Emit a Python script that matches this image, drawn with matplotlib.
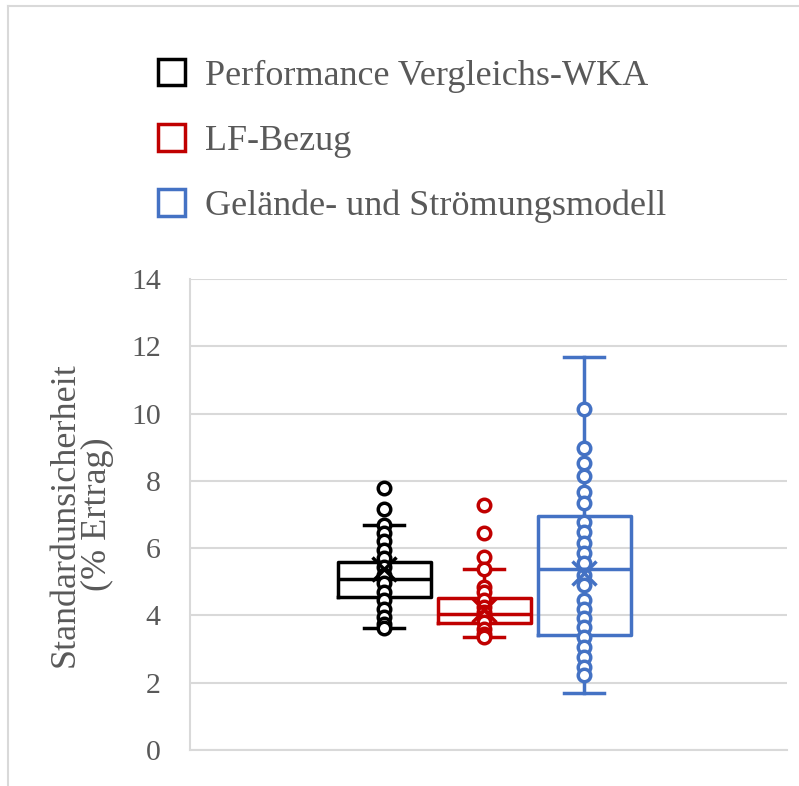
#box plot of the standard uncertainty (% yield) for three uncertainty sources

import numpy as np
import matplotlib.pyplot as plt
import matplotlib.patches as mpatches
from matplotlib.lines import Line2D

SERIES = ["Performance Vergleichs-WKA", "LF-Bezug", "Gelände- und Strömungsmodell"]
COLORS = ["#000000", "#c00000", "#4472c4"]

# box statistics
q1 = [4.55, 3.78, 3.42]
median = [5.08, 4.03, 5.38]
q3 = [5.59, 4.52, 6.96]
whis_lo = [3.64, 3.36, 1.70]
whis_hi = [6.70, 5.38, 11.68]
means = [5.38, 4.16, 5.26]

# single data points (circles)
pts_perf = [7.78, 7.15, 6.70, 6.45, 6.20, 5.95, 5.70, 5.45, 5.20, 4.95, 4.70, 4.45, 4.20, 3.95, 3.75, 3.64]
pts_lf = [7.28, 6.45, 5.74, 5.38, 4.85, 4.70, 4.45, 4.25, 4.10, 3.95, 3.80, 3.60, 3.45, 3.36]
pts_geo = [10.14, 8.98, 8.53, 8.14, 7.67, 7.34, 6.78, 6.48, 6.15, 5.85, 5.56, 5.20, 4.90,
           4.46, 4.19, 3.92, 3.66, 3.36, 3.06, 2.76, 2.47, 2.23]
points = [pts_perf, pts_lf, pts_geo]

plt.rcParams['font.family'] = ['Liberation Serif', 'DejaVu Serif']
TXT = "#595959"
GRID = "#d9d9d9"

fig = plt.figure(figsize=(7.99, 7.86), dpi=100)
ax = fig.add_axes([190/799, 1-750/786, 597/799, 471/786])

stats = []
for i in range(3):
    stats.append(dict(q1=q1[i], med=median[i], q3=q3[i], whislo=whis_lo[i],
                      whishi=whis_hi[i], mean=means[i], fliers=[]))

pos = [1, 2, 3]
for i in range(3):
    c = COLORS[i]
    ax.bxp([stats[i]], positions=[pos[i]], widths=0.93, showmeans=False,
           showfliers=False, patch_artist=False, capwidths=[0.4],
           boxprops=dict(color=c, lw=2.5),
           medianprops=dict(color=c, lw=2.5),
           whiskerprops=dict(color=c, lw=2.5),
           capprops=dict(color=c, lw=2.5),
           zorder=3)
    ax.plot([pos[i]]*len(points[i]), points[i], 'o', mfc='white', mec=c, mew=2.5,
            ms=9, zorder=4, ls='none')
    # mean marker on top of the points
    ax.plot([pos[i]], [means[i]], 'x', color=c, ms=17, mew=2.5, zorder=5)

ax.set_xlim(-0.94, 5.03)
ax.set_ylim(0, 14)
ax.set_yticks(np.arange(0, 15, 2))
ax.set_xticks([])
ax.grid(axis='y', color=GRID, lw=1.5)
ax.set_axisbelow(True)
for s in ['top', 'right']:
    ax.spines[s].set_visible(False)
for s in ['left', 'bottom']:
    ax.spines[s].set_color(GRID)
    ax.spines[s].set_linewidth(1.5)
ax.tick_params(axis='y', length=0, labelsize=21.5, labelcolor=TXT, pad=21)
ax.set_ylabel("Standardunsicherheit\n(% Ertrag)", fontsize=26, color=TXT, labelpad=12,
              linespacing=1.0)

handles = [mpatches.Patch(facecolor='white', edgecolor=c, lw=2.5) for c in COLORS]
fig.legend(handles, SERIES, loc='upper left', bbox_to_anchor=(158/799, 1-59/786),
           frameon=False, fontsize=26, labelcolor=TXT, handlelength=0.75,
           handleheight=0.75, handletextpad=0.55, labelspacing=0.87, borderpad=0,
           borderaxespad=0)

# outer chart border (cropped)
fig.add_artist(Line2D([8/799, 8/799], [0, 1-6/786], color=GRID, lw=1.5))
fig.add_artist(Line2D([8/799, 1], [1-6/786, 1-6/786], color=GRID, lw=1.5))

fig.savefig("out.png", dpi=100)
